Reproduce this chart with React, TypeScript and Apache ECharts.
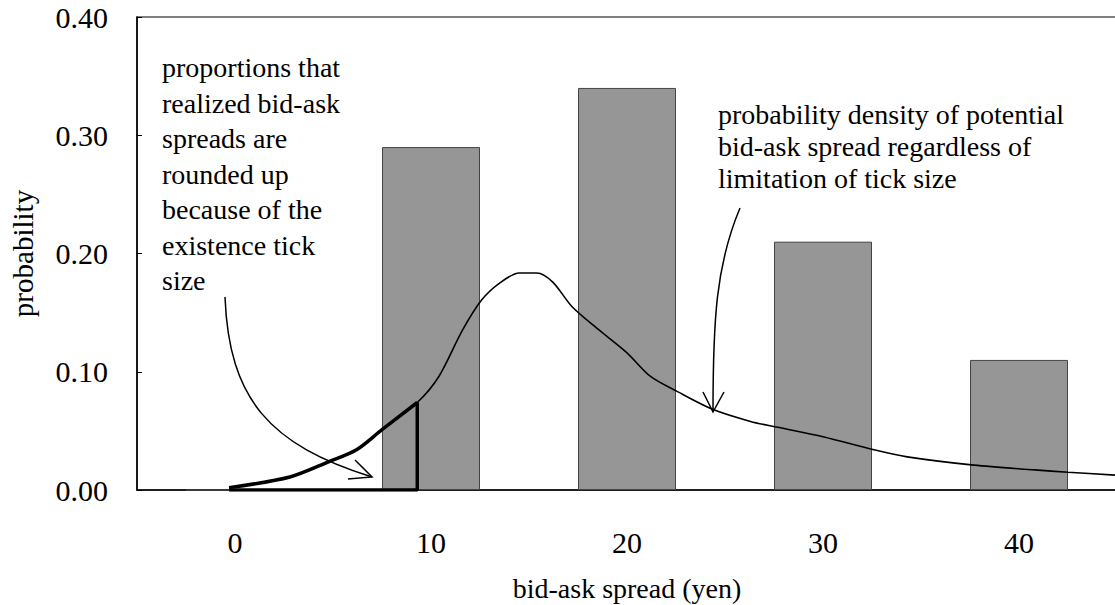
import React, { useEffect, useRef } from "react";
import * as echarts from "echarts";

const categories = ["0", "10", "20", "30", "40"];
const barValues = [0, 0.29, 0.34, 0.21, 0.11];
const yTicks = [0, 0.1, 0.2, 0.3, 0.4];

const curveX = [-0.3, 2.8, 4.8, 6.2, 7.5, 9.3, 10.4, 11.6, 12.6, 13.5, 14.5, 15.4, 16.2, 17.2, 18.6, 20.0, 21.2, 22.6, 24.4, 26.3, 27.7, 30.0, 32.6, 34.3, 37.7, 40.8, 42.5, 45.0];
const curveY = [0.002, 0.011, 0.024, 0.034, 0.051, 0.074, 0.096, 0.135, 0.161, 0.175, 0.1835, 0.1835, 0.176, 0.155, 0.135, 0.116, 0.096, 0.083, 0.068, 0.058, 0.053, 0.045, 0.034, 0.028, 0.021, 0.017, 0.015, 0.0125];
const triangleEdge = 9.3;

const leftNote = ["proportions that", "realized bid-ask", "spreads are", "rounded up", "because of the", "existence tick", "size"];
const rightNote = ["probability density of potential", "bid-ask spread regardless of", "limitation of tick size"];

const FONT = "'Liberation Serif', 'Times New Roman', serif";

export default function App() {
  const ref = useRef<HTMLDivElement>(null);
  useEffect(() => {
    const chart = echarts.init(ref.current!, null, { renderer: "svg" });
    const curve = curveX.map((x, i) => [x, curveY[i]]);
    const tri = curve.filter((p) => p[0] <= triangleEdge);
    const last = tri[tri.length - 1];
    const corner = [last, [last[0], 0], [tri[0][0], 0]];
    chart.setOption({
      animation: false,
      backgroundColor: "#fff",
      grid: {
        left: 137, top: 17, right: -2, bottom: 115,
        outerBoundsMode: "none",
        containLabel: false,
        show: true, borderColor: "#000", borderWidth: 1.2,
      },
      xAxis: [
        {
          type: "category",
          data: categories,
          boundaryGap: true,
          axisLine: { lineStyle: { color: "#000", width: 1.5 } },
          axisTick: { inside: true, length: 7, alignWithLabel: false, lineStyle: { color: "#000" } },
          axisLabel: { color: "#000", fontSize: 30, fontFamily: FONT, margin: 37 },
          name: "bid-ask spread (yen)",
          nameLocation: "middle",
          nameGap: 84,
          nameTextStyle: { color: "#000", fontSize: 28, fontFamily: FONT },
        },
        { type: "value", min: -5, max: 45, show: false },
      ],
      yAxis: {
        type: "value",
        min: yTicks[0],
        max: yTicks[yTicks.length - 1],
        interval: 0.1,
        splitLine: { show: false },
        axisLine: { show: true, onZero: false, lineStyle: { color: "#000", width: 1.5 } },
        axisTick: { show: true, inside: true, length: 5, lineStyle: { color: "#000" } },
        axisLabel: { color: "#000", fontSize: 30, fontFamily: FONT, margin: 29, formatter: (v: number) => v.toFixed(2) },
        name: "probability",
        nameLocation: "middle",
        nameRotate: 90,
        nameGap: 100,
        nameTextStyle: { color: "#000", fontSize: 29, fontFamily: FONT },
      },
      series: [
        {
          type: "bar",
          xAxisIndex: 0,
          data: barValues,
          barWidth: "50%",
          itemStyle: { color: "#969696", borderColor: "#444", borderWidth: 1 },
          z: 1,
        },
        {
          type: "line",
          xAxisIndex: 1,
          data: curve,
          symbol: "none",
          smooth: 0.3,
          lineStyle: { color: "#000", width: 1.6 },
          z: 3,
        },
        {
          type: "line",
          xAxisIndex: 1,
          data: tri,
          symbol: "none",
          smooth: 0.3,
          lineStyle: { color: "#000", width: 3.5 },
          z: 4,
        },
        {
          type: "line",
          xAxisIndex: 1,
          data: corner,
          symbol: "none",
          lineStyle: { color: "#000", width: 3.5 },
          z: 4,
        },
      ],
      graphic: [
        {
          type: "text",
          left: 162,
          top: 50,
          style: { text: leftNote.join("\n"), fontSize: 28, fontFamily: FONT, fill: "#000", lineHeight: 35.5 },
        },
        {
          type: "text",
          left: 718,
          top: 98,
          style: { text: rightNote.join("\n"), fontSize: 28, fontFamily: FONT, fill: "#000", lineHeight: 32 },
        },
        {
          type: "bezierCurve",
          shape: { x1: 225, y1: 297, cpx1: 229, cpy1: 400, cpx2: 270, cpy2: 445, x2: 372, y2: 477 },
          style: { stroke: "#000", lineWidth: 1.5, fill: null },
          z: 10,
        },
        {
          type: "polyline",
          shape: { points: [[355, 460], [372, 477], [348, 479]] },
          style: { stroke: "#000", lineWidth: 1.5, fill: null },
          z: 10,
        },
        {
          type: "bezierCurve",
          shape: { x1: 740, y1: 208, cpx1: 716, cpy1: 265, cpx2: 713, cpy2: 320, x2: 713, y2: 412 },
          style: { stroke: "#000", lineWidth: 1.5, fill: null },
          z: 10,
        },
        {
          type: "polyline",
          shape: { points: [[703, 392], [713, 412], [724, 392]] },
          style: { stroke: "#000", lineWidth: 1.5, fill: null },
          z: 10,
        },
      ],
    });
    return () => chart.dispose();
  }, []);
  return <div ref={ref} style={{ position: "absolute", left: 0, top: 0, width: 1115, height: 605, background: "#fff" }} />;
}
